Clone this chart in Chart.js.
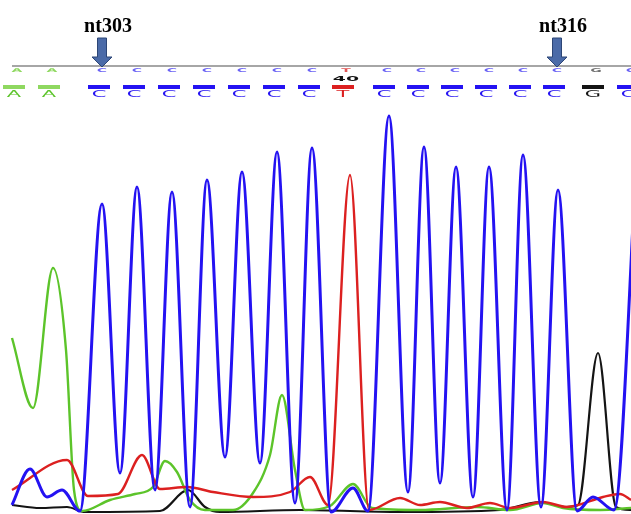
<!DOCTYPE html>
<html>
<head>
<meta charset="utf-8">
<script src="https://cdn.jsdelivr.net/npm/chart.js@4/dist/chart.umd.min.js"></script>
<style>
  body { margin: 0; background: #fff; }
  canvas { display: block; }
</style>
</head>
<body>
<canvas id="chromatogram" width="631" height="514"></canvas>
<script>
// base calls shown above the trace
const baseCalls = ['A', 'A', 'C', 'C', 'C', 'C', 'C', 'C', 'C', 'T', 'C', 'C', 'C', 'C', 'C', 'C', 'G', 'C'];
const basePos = [17, 52, 102, 137, 172, 207, 242, 277, 312, 346, 387, 421, 455, 489, 523, 557, 596, 631];

// marked nucleotides (index into baseCalls)
const markerIdx = [2, 15];
const markerLabels = ['nt303', 'nt316'];
const baseNumberIdx = 9;
const baseNumberLabel = '40';

// trace A (green)
const traceAx = [12, 33, 53, 66, 74, 82, 110, 135, 153, 165, 177, 190, 205, 233, 253, 270, 282, 295, 305, 330, 353, 372, 420, 477, 510, 543, 563, 600, 631];
const traceAy = [176, 106, 246, 164, 24, 3, 14, 20, 27, 53, 42, 14, 4, 4, 21, 59, 119, 44, 4, 8, 30, 6, 4, 7, 4, 11, 6, 4, 6];

// trace C (blue)
const traceCx = [12, 30, 47, 62, 80, 102, 120, 137, 155, 172, 190, 207, 225, 242, 260, 277, 295, 312, 331, 353, 368, 389, 408, 424, 440, 456, 473, 489, 507, 523, 541, 558, 577, 593, 614, 638];
const traceCy = [9, 45, 17, 24, 3, 310, 41, 327, 24, 322, 7, 334, 57, 342, 51, 362, 11, 366, 2, 26, 3, 398, 22, 367, 31, 347, 17, 347, 4, 359, 7, 324, 3, 17, 4, 384];

// trace G (black)
const traceGx = [12, 40, 67, 85, 160, 188, 205, 220, 300, 400, 500, 540, 565, 578, 598, 616, 631];
const traceGy = [9, 6, 7, 2, 3, 24, 7, 2, 4, 2, 4, 12, 7, 9, 161, 7, 4];

// trace T (red)
const traceTx = [12, 67, 88, 118, 142, 160, 187, 213, 253, 290, 310, 328, 350, 369, 400, 420, 440, 467, 490, 510, 543, 567, 603, 620, 631];
const traceTy = [24, 54, 18, 20, 59, 25, 27, 22, 17, 22, 37, 9, 339, 4, 16, 9, 12, 6, 11, 6, 12, 7, 17, 20, 14];

const baseColors = { A: '#5cc42a', C: '#2412f2', G: '#141414', T: '#dc2020' };
const lightColors = { A: '#8fd860', C: '#6a62f4', G: '#707070', T: '#e05555' };

function points(xs, ys) {
  return xs.map((x, i) => ({ x: x, y: ys[i] }));
}

function trace(label, xs, ys, color, width) {
  return {
    label: label,
    data: points(xs, ys),
    borderColor: color,
    borderWidth: width,
    pointRadius: 0,
    cubicInterpolationMode: 'monotone',
    fill: false
  };
}

function stretchedText(ctx, text, cx, cy, font, sx, sy, color) {
  ctx.save();
  ctx.translate(cx, cy);
  ctx.scale(sx, sy);
  ctx.font = font;
  ctx.textAlign = 'center';
  ctx.textBaseline = 'middle';
  ctx.fillStyle = color;
  ctx.fillText(text, 0, 0);
  ctx.restore();
}

// base call header, arrows and labels
const headerPlugin = {
  id: 'header',
  afterDraw(chart) {
    const ctx = chart.ctx;
    const xs = chart.scales.x;
    ctx.save();

    ctx.strokeStyle = '#a6a6a6';
    ctx.lineWidth = 2;
    ctx.beginPath();
    ctx.moveTo(xs.getPixelForValue(12), 66);
    ctx.lineTo(chart.width, 66);
    ctx.stroke();

    baseCalls.forEach((b, i) => {
      const px = xs.getPixelForValue(basePos[i]);
      stretchedText(ctx, b, px, 71, 'bold 7px "DejaVu Sans"', 2.0, 0.75, lightColors[b]);
      ctx.fillStyle = b === 'A' ? lightColors[b] : baseColors[b];
      ctx.fillRect(px - 14, 85, 22, 4);
      stretchedText(ctx, b, px - 3, 94.5, '10px "DejaVu Sans"', 2.1, 0.85, baseColors[b]);
    });

    const nx = xs.getPixelForValue(basePos[baseNumberIdx]);
    stretchedText(ctx, baseNumberLabel, nx, 79, 'bold 9px "DejaVu Sans"', 2.1, 0.8, '#111');

    markerIdx.forEach((idx, i) => {
      const px = xs.getPixelForValue(basePos[idx]);
      ctx.fillStyle = '#4b6ba8';
      ctx.strokeStyle = '#2d4676';
      ctx.lineWidth = 1;
      ctx.beginPath();
      ctx.moveTo(px - 4.5, 38);
      ctx.lineTo(px + 4.5, 38);
      ctx.lineTo(px + 4.5, 57);
      ctx.lineTo(px + 10, 57);
      ctx.lineTo(px, 67);
      ctx.lineTo(px - 10, 57);
      ctx.lineTo(px - 4.5, 57);
      ctx.closePath();
      ctx.fill();
      ctx.stroke();

      ctx.font = 'bold 20px "Liberation Serif"';
      ctx.textAlign = 'center';
      ctx.textBaseline = 'alphabetic';
      ctx.fillStyle = '#000';
      ctx.fillText(markerLabels[i], px + 6, 32);
    });

    ctx.restore();
  }
};

new Chart(document.getElementById('chromatogram'), {
  type: 'line',
  data: {
    datasets: [
      trace('C', traceCx, traceCy, baseColors.C, 3),
      trace('T', traceTx, traceTy, baseColors.T, 2.4),
      trace('A', traceAx, traceAy, baseColors.A, 2.4),
      trace('G', traceGx, traceGy, baseColors.G, 2.2)
    ]
  },
  options: {
    responsive: false,
    animation: false,
    events: [],
    layout: { padding: { top: 100, left: 0, right: 0, bottom: 0 } },
    plugins: {
      legend: { display: false },
      tooltip: { enabled: false }
    },
    scales: {
      x: { type: 'linear', min: 0, max: 631, display: false },
      y: { min: 0, max: 414, display: false }
    }
  },
  plugins: [headerPlugin]
});
</script>
</body>
</html>
